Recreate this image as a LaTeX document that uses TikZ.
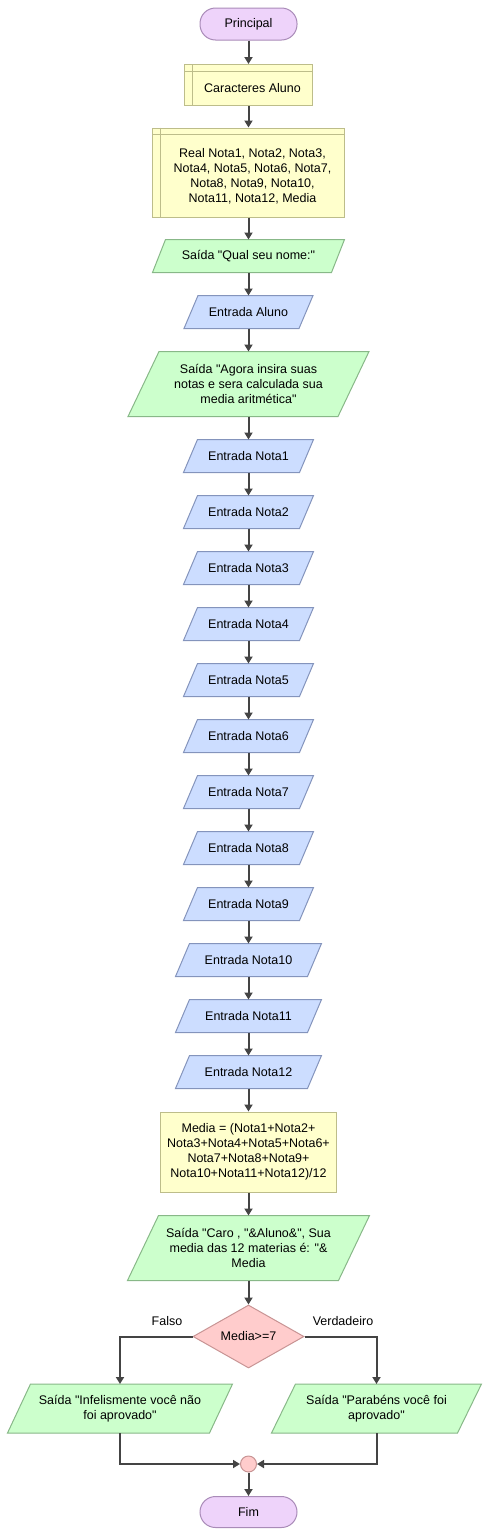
\documentclass[tikz,border=0pt]{standalone}
\usepackage{fontspec}
\setmainfont{Liberation Sans}[Ligatures=TeXOff]
\usetikzlibrary{arrows.meta,shapes.geometric,backgrounds}
\definecolor{termF}{HTML}{EED3FA}
\definecolor{termD}{HTML}{A98BB8}
\definecolor{boxF}{HTML}{FFFFCC}
\definecolor{boxD}{HTML}{BDBD8A}
\definecolor{outF}{HTML}{CCFFCC}
\definecolor{outD}{HTML}{88B888}
\definecolor{inF}{HTML}{CCDDFF}
\definecolor{inD}{HTML}{8494BC}
\definecolor{decF}{HTML}{FFCCCC}
\definecolor{decD}{HTML}{C89494}
\definecolor{flowC}{HTML}{444444}
\tikzset{
  every node/.style={font=\fontsize{12.5}{15}\selectfont, inner sep=0pt, line width=1pt},
  term/.style={rectangle, rounded corners=15.5pt, draw=termD, fill=termF, minimum width=97pt, minimum height=32pt},
  store/.style={rectangle, draw=boxD, fill=boxF},
  storetext/.style={align=center},
  proc/.style={rectangle, draw=boxD, fill=boxF, align=center},
  io/.style={rectangle, align=center, minimum height=32pt},
  outbox/.style={draw=outD, fill=outF, line width=1pt},
  inbox/.style={draw=inD, fill=inF, line width=1pt},
  dec/.style={diamond, aspect=1.76, draw=decD, fill=decF, minimum width=111pt, minimum height=63pt},
  junc/.style={circle, draw=decD, fill=decF, minimum size=16pt},
  flow/.style={draw=flowC, line width=2pt, -{Triangle[length=7pt,width=8pt]}},
}
\begin{document}
\begin{tikzpicture}[x=1pt,y=-1pt]
\useasboundingbox (0,0) rectangle (489,1537);
\node[term] (bid0) at (248.5,24){Principal};
\node[store, minimum width=128pt, minimum height=41pt] (bid1) at (248.5,85){};
\draw[boxD, line width=1pt] ([xshift=8pt]bid1.north west) -- ([xshift=8pt]bid1.south west);
\draw[boxD, line width=1pt] ([yshift=-7pt]bid1.north west) -- ([yshift=-7pt]bid1.north east);
\node[storetext] (txt1) at (252.5,88.5){Caracteres Aluno};
\node[store, minimum width=192pt, minimum height=89pt] (bid2) at (248.5,172.5){};
\draw[boxD, line width=1pt] ([xshift=8pt]bid2.north west) -- ([xshift=8pt]bid2.south west);
\draw[boxD, line width=1pt] ([yshift=-7pt]bid2.north west) -- ([yshift=-7pt]bid2.north east);
\node[storetext] (txt2) at (252.5,176){Real Nota1, Nota2, Nota3,\\Nota4, Nota5, Nota6, Nota7,\\Nota8, Nota9, Nota10,\\Nota11, Nota12, Media};
\node[io, minimum width=178pt] (bid3) at (248.5,256){Saída "Qual seu nome:"};
\node[io, minimum width=114pt] (bid4) at (248.5,312){Entrada Aluno};
\node[io, minimum width=209pt, minimum height=64pt] (bid5) at (248.5,384){Saída "Agora insira suas\\notas e sera calculada sua\\media aritmética"};
\node[io, minimum width=115pt] (bid6) at (248.5,456){Entrada Nota1};
\node[io, minimum width=115pt] (bid7) at (248.5,512){Entrada Nota2};
\node[io, minimum width=115pt] (bid8) at (248.5,568){Entrada Nota3};
\node[io, minimum width=115pt] (bid9) at (248.5,624){Entrada Nota4};
\node[io, minimum width=115pt] (bid10) at (248.5,680){Entrada Nota5};
\node[io, minimum width=115pt] (bid11) at (248.5,736){Entrada Nota6};
\node[io, minimum width=115pt] (bid12) at (248.5,792){Entrada Nota7};
\node[io, minimum width=115pt] (bid13) at (248.5,848){Entrada Nota8};
\node[io, minimum width=115pt] (bid14) at (248.5,904){Entrada Nota9};
\node[io, minimum width=131pt] (bid15) at (248.5,960){Entrada Nota10};
\node[io, minimum width=131pt] (bid16) at (248.5,1016){Entrada Nota11};
\node[io, minimum width=131pt] (bid17) at (248.5,1072){Entrada Nota12};
\node[proc, minimum width=176pt, minimum height=80pt] (bid18) at (248.5,1152){Media = (Nota1+Nota2+\\Nota3+Nota4+Nota5+Nota6+\\Nota7+Nota8+Nota9+\\Nota10+Nota11+Nota12)/12};
\node[io, minimum width=210pt, minimum height=64pt] (bid19) at (248.5,1248){Saída "Caro , "\&Aluno\&", Sua\\media das 12 materias é: "\&\\Media};
\node[dec] (bid20) at (248.5,1336.5){Media>=7};
\node[io, minimum width=201pt, minimum height=48pt] (bid21) at (120,1408.5){Saída "Infelismente você não\\foi aprovado"};
\node[io, minimum width=185pt, minimum height=48pt] (bid22) at (376.5,1408.5){Saída "Parabéns você foi\\aprovado"};
\node[junc] (bid23) at (248.5,1464){};
\node[term, minimum height=31pt] (bid24) at (248.5,1512){Fim};
\node (lid0) at (167,1321){Falso};
\node (lid1) at (343,1321){Verdadeiro};
\begin{scope}[on background layer]
\foreach \b/\s in {bid3/13, bid5/31, bid19/31, bid21/23, bid22/24}
  \draw[outbox] ([xshift=\s/2]\b.north west) -- ([xshift=\s/2]\b.north east) -- ([xshift=-\s/2]\b.south east) -- ([xshift=-\s/2]\b.south west) -- cycle;
\foreach \b in {bid4, bid6, bid7, bid8, bid9, bid10, bid11, bid12, bid13, bid14, bid15, bid16, bid17}
  \draw[inbox] ([xshift=7pt]\b.north west) -- ([xshift=7pt]\b.north east) -- ([xshift=-7pt]\b.south east) -- ([xshift=-7pt]\b.south west) -- cycle;
\end{scope}
\draw[flow](bid0) -- (bid1);
\draw[flow](bid1) -- (bid2);
\draw[flow](bid2) -- (bid3);
\draw[flow](bid3) -- (bid4);
\draw[flow](bid4) -- (bid5);
\draw[flow](bid5) -- (bid6);
\draw[flow](bid6) -- (bid7);
\draw[flow](bid7) -- (bid8);
\draw[flow](bid8) -- (bid9);
\draw[flow](bid9) -- (bid10);
\draw[flow](bid10) -- (bid11);
\draw[flow](bid11) -- (bid12);
\draw[flow](bid12) -- (bid13);
\draw[flow](bid13) -- (bid14);
\draw[flow](bid14) -- (bid15);
\draw[flow](bid15) -- (bid16);
\draw[flow](bid16) -- (bid17);
\draw[flow](bid17) -- (bid18);
\draw[flow](bid18) -- (bid19);
\draw[flow](bid19) -- (bid20);
\draw[flow](bid20.west) -| (bid21);
\draw[flow](bid20.east) -| (bid22);
\draw[flow](bid21) |- (bid23);
\draw[flow](bid22) |- (bid23);
\draw[flow](bid23) -- (bid24);
\end{tikzpicture}
\end{document}
